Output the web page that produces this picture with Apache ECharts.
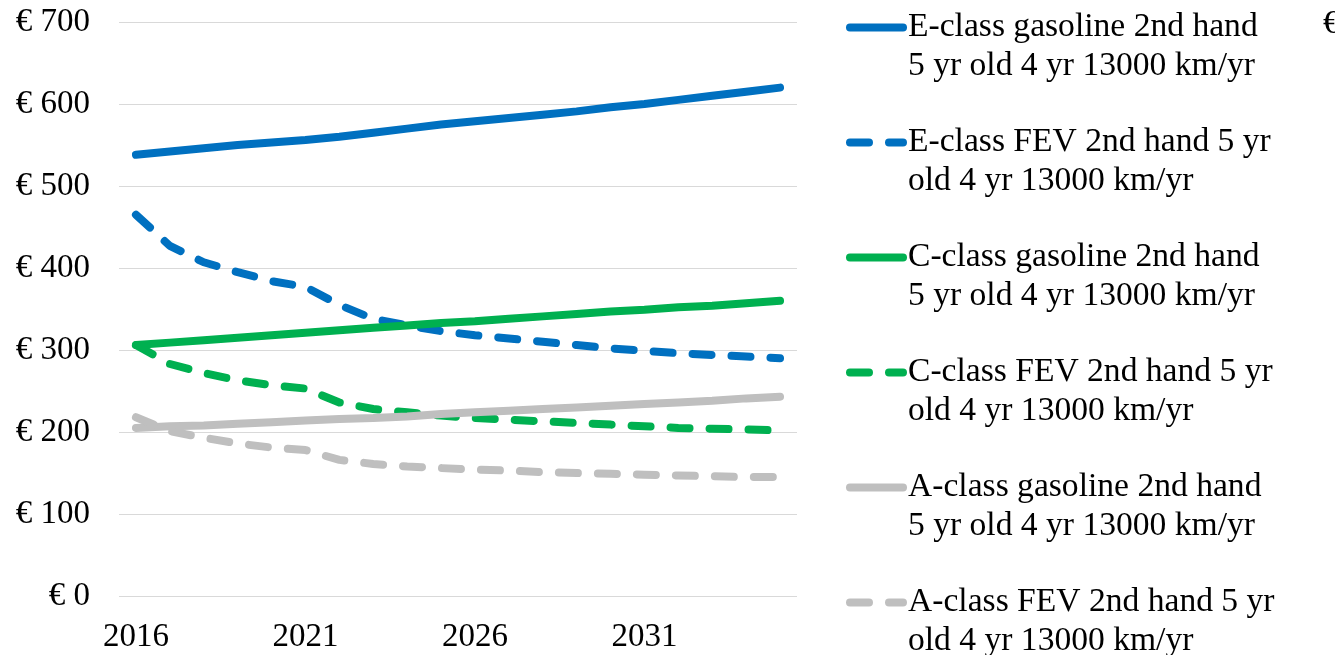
<!DOCTYPE html>
<html>
<head>
<meta charset="utf-8">
<style>
  html, body { margin: 0; padding: 0; background: #fff; }
  #chart { width: 1335px; height: 655px; }
</style>
<script src="https://cdn.jsdelivr.net/npm/echarts@6/dist/echarts.min.js"></script>
</head>
<body>
<div id="chart"></div>
<script>
const years = ['2016','2017','2018','2019','2020','2021','2022','2023','2024','2025','2026','2027','2028','2029','2030','2031','2032','2033','2034','2035'];
const seriesNames = [
  'E-class gasoline 2nd hand 5 yr old 4 yr 13000 km/yr',
  'E-class FEV 2nd hand 5 yr old 4 yr 13000 km/yr',
  'C-class gasoline 2nd hand 5 yr old 4 yr 13000 km/yr',
  'C-class FEV 2nd hand 5 yr old 4 yr 13000 km/yr',
  'A-class gasoline 2nd hand 5 yr old 4 yr 13000 km/yr',
  'A-class FEV 2nd hand 5 yr old 4 yr 13000 km/yr'
];
// legend text as it wraps in the original
const legendFirstLines = [
  'E-class gasoline 2nd hand',
  'E-class FEV 2nd hand 5 yr',
  'C-class gasoline 2nd hand',
  'C-class FEV 2nd hand 5 yr',
  'A-class gasoline 2nd hand',
  'A-class FEV 2nd hand 5 yr'
];
const legendSecondLines = [
  '5 yr old 4 yr 13000 km/yr',
  'old 4 yr 13000 km/yr',
  '5 yr old 4 yr 13000 km/yr',
  'old 4 yr 13000 km/yr',
  '5 yr old 4 yr 13000 km/yr',
  'old 4 yr 13000 km/yr'
];
const eClassGasoline = [538, 542, 546, 550, 553, 556, 560, 565, 570, 575, 579, 583, 587, 591, 596, 600, 605, 610, 615, 620];
const eClassFEV      = [465, 427, 407, 395, 384, 377, 355, 338, 330, 323, 318, 314, 310, 306, 302, 299, 296, 294, 292, 290];
const cClassGasoline = [306, 309, 312, 315, 318, 321, 324, 327, 330, 333, 335, 338, 341, 344, 347, 349, 352, 354, 357, 360];
const cClassFEV      = [306, 283, 272, 263, 257, 253, 236, 228, 224, 220, 217, 215, 213, 211, 209, 207, 205, 204, 203, 202];
const aClassGasoline = [205, 207, 208, 210, 212, 214, 216, 217, 219, 222, 224, 226, 228, 230, 232, 234, 236, 238, 241, 243];
const aClassFEV      = [218, 201, 193, 186, 181, 178, 166, 161, 158, 156, 154, 153, 151, 150, 149, 148, 147, 146, 145, 145];

const seriesData = [eClassGasoline, eClassFEV, cClassGasoline, cClassFEV, aClassGasoline, aClassFEV];
const colors = ['#0070C0', '#0070C0', '#00B050', '#00B050', '#BFBFBF', '#BFBFBF'];
const dashed = [false, true, false, true, false, true];

const FONT = '"Liberation Serif", "Times New Roman", serif';
const DASH = [19, 20];

const chart = echarts.init(document.getElementById('chart'), null, { renderer: 'canvas' });
chart.setOption({
  animation: false,
  backgroundColor: '#ffffff',
  grid: { left: 119, right: 538, top: 22, bottom: 59, containLabel: false },
  xAxis: {
    type: 'category',
    data: years,
    boundaryGap: true,
    axisLine: { show: false },
    axisTick: { show: false },
    axisLabel: { interval: 4, margin: 25, color: '#000', fontSize: 33, fontFamily: FONT },
    splitLine: { show: false }
  },
  yAxis: {
    type: 'value',
    min: 0, max: 700, interval: 100,
    axisLine: { show: false },
    axisTick: { show: false },
    axisLabel: { formatter: '€ {value}', margin: 29, color: '#000', fontSize: 33, fontFamily: FONT },
    splitLine: { show: true, lineStyle: { color: '#D9D9D9', width: 1 } }
  },
  legend: {
    type: 'plain',
    orient: 'vertical',
    left: 846,
    top: -31,
    height: 1000,
    padding: 0,
    itemWidth: 53,
    itemHeight: 8,
    itemGap: -2,
    lineStyle: { width: 8 },
    textStyle: { fontFamily: FONT, fontSize: 33.6, color: '#000', lineHeight: 39 },
    formatter: function (name) {
      const i = seriesNames.indexOf(name);
      return '\n' + legendFirstLines[i] + '\n' + legendSecondLines[i];
    },
    data: seriesNames.map((n, i) => ({
      name: n,
      itemStyle: { color: 'rgba(0,0,0,0)', borderWidth: 0, opacity: 0 },
      lineStyle: { width: 8, color: colors[i], type: dashed[i] ? DASH : 'solid', cap: 'round', opacity: 1 }
    }))
  },
  graphic: [{
    type: 'text', left: 1323, top: 8,
    style: { text: '€', font: '33px ' + FONT, fill: '#000' }
  }],
  series: seriesNames.map((name, i) => ({
    name: name,
    type: 'line',
    data: seriesData[i],
    symbol: 'none',
    smooth: false,
    color: colors[i],
    lineStyle: {
      color: colors[i], width: 8, cap: 'round', join: 'round',
      type: dashed[i] ? DASH : 'solid'
    },
    emphasis: { disabled: true }
  }))
});
</script>
</body>
</html>
